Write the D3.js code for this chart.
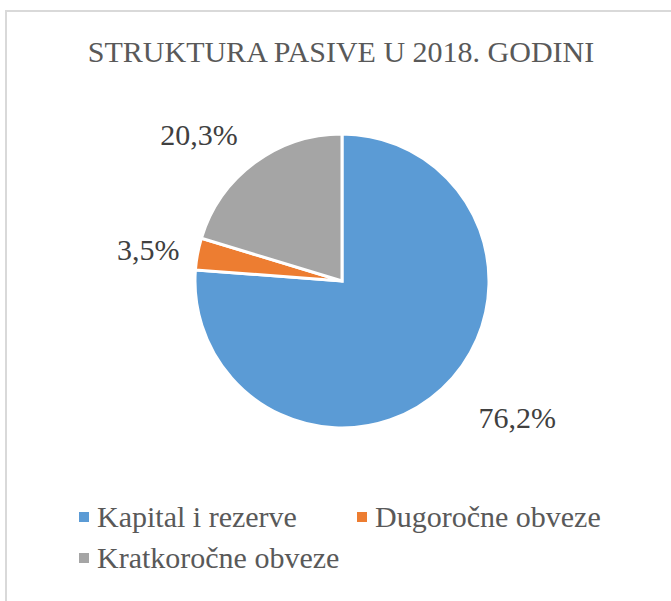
<!DOCTYPE html>
<html>
<head>
<meta charset="utf-8">
<script src="https://cdn.jsdelivr.net/npm/d3@7"></script>
<style>
  body { margin: 0; background: #fff; }
</style>
</head>
<body>
<svg id="chart" width="671" height="601"></svg>
<script>
const categories = ["Kapital i rezerve", "Dugoročne obveze", "Kratkoročne obveze"];
const values = [76.2, 3.5, 20.3];
const labels = ["76,2%", "3,5%", "20,3%"];
const colors = ["#5b9bd5", "#ed7d31", "#a5a5a5"];

const FONT = "'Liberation Serif', 'Times New Roman', serif";
const svg = d3.select("#chart");
const cx = 342, cy = 281, radius = 147;

// chart frame (only left & top edges visible)
svg.append("rect")
    .attr("x", 6).attr("y", 11)
    .attr("width", 700).attr("height", 620)
    .attr("fill", "none")
    .attr("stroke", "#d9d9d9")
    .attr("stroke-width", 2);

svg.append("text")
    .attr("x", 341).attr("y", 62)
    .attr("text-anchor", "middle")
    .attr("font-family", FONT)
    .attr("fill", "#595959")
    .attr("font-size", 30)
    .text("STRUKTURA PASIVE U 2018. GODINI");

const pie = d3.pie().sort(null).value(d => d);
const arcs = pie(values);
const arc = d3.arc().innerRadius(0).outerRadius(radius);

const g = svg.append("g")
    .attr("transform", "translate(" + cx + "," + cy + ")");

g.selectAll("path")
  .data(arcs)
  .enter().append("path")
    .attr("d", arc)
    .attr("fill", (d, i) => colors[i])
    .attr("stroke", "#fff")
    .attr("stroke-width", 3)
    .attr("stroke-linejoin", "miter");

// outside labels (best-fit style placement)
const labelR = [224, 197, 200];
const nudge = [[23, -28], [0, 5], [-24, 14]];
function labelXY(d, i) {
  const c = d3.arc().innerRadius(labelR[i]).outerRadius(labelR[i]).centroid(d);
  return [c[0] + nudge[i][0], c[1] + nudge[i][1]];
}
g.selectAll(".lbl")
  .data(arcs)
  .enter().append("text")
    .attr("class", "lbl")
    .attr("text-anchor", "middle")
    .attr("dy", "0.35em")
    .attr("font-family", FONT)
    .attr("font-size", 30)
    .attr("fill", "#404040")
    .attr("transform", (d, i) => "translate(" + labelXY(d, i) + ")")
    .text((d, i) => labels[i]);

// legend
const legendPos = [[79, 527], [357, 527], [79, 568]];
const lg = svg.selectAll(".legend")
  .data(categories)
  .enter().append("g")
    .attr("class", "legend")
    .attr("transform", (d, i) => "translate(" + legendPos[i] + ")");

lg.append("rect")
    .attr("x", 0).attr("y", -15)
    .attr("width", 10).attr("height", 10)
    .attr("fill", (d, i) => colors[i]);

lg.append("text")
    .attr("x", 18)
    .attr("font-family", FONT)
    .attr("font-size", 30)
    .attr("fill", "#595959")
    .text(d => d);
</script>
</body>
</html>
